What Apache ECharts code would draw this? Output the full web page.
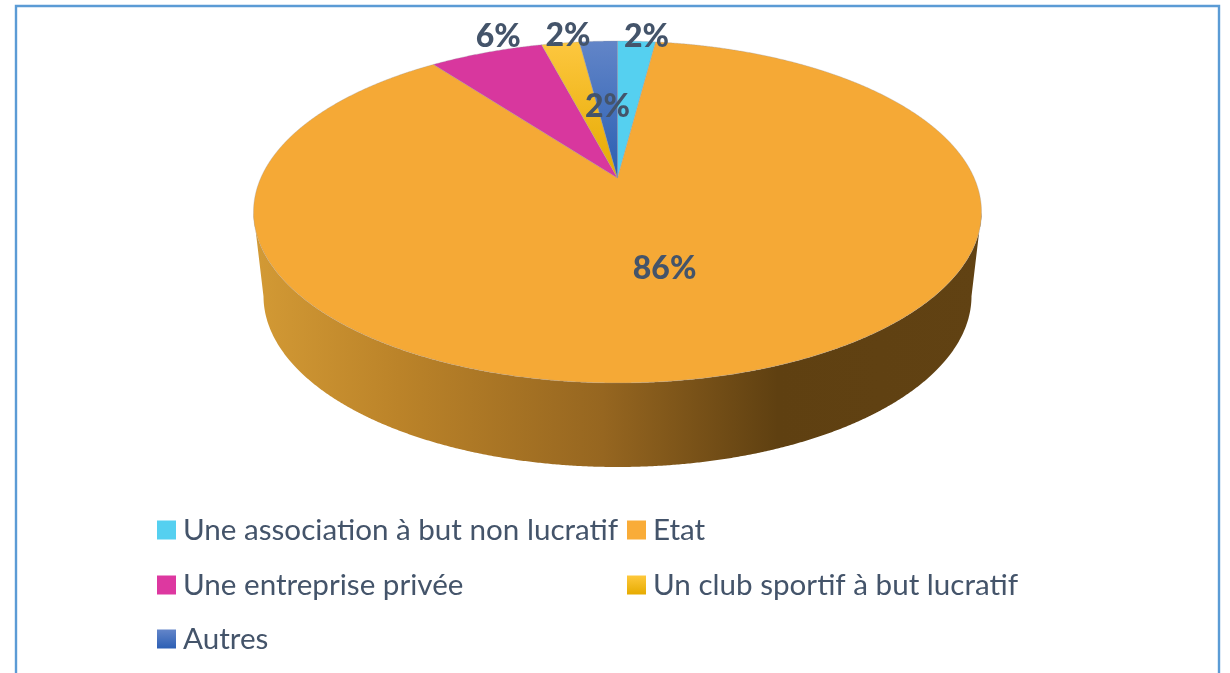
<!DOCTYPE html>
<html>
<head>
<meta charset="utf-8">
<style>html,body{margin:0;padding:0;background:#fff}#c{width:1230px;height:673px}</style>
<script src="https://cdn.jsdelivr.net/npm/echarts@6/dist/echarts.min.js"></script>
</head>
<body>
<div id="c"></div>
<script>
// Data, clockwise from 12 o'clock
const categories = ['Une association à but non lucratif', 'Etat', 'Une entreprise privée', 'Un club sportif à but lucratif', 'Autres'];
const values = [2, 86, 6, 2, 2];
const valueLabels = ['2%', '86%', '6%', '2%', '2%'];

// Styles
const G = echarts.graphic.LinearGradient;
const v = (a, b) => new G(0, 0, 0, 1, [{offset: 0, color: a}, {offset: 1, color: b}]);
const sliceColors = ['#55d0f0', '#f5a936', '#d8379e', v('#fdc73f', '#e5a900'), v('#6285c8', '#2a5fb2')];
const legendColors = ['#55d0f0', '#f9ac38', '#dd38a0', v('#fec83c', '#e6ab00'), v('#6385c9', '#2c5fb4')];
const wallGradient = [
  {offset: 0, color: '#d39a35'}, {offset: 0.2, color: '#bb8329'}, {offset: 0.48, color: '#966620'},
  {offset: 0.72, color: '#5f4011'}, {offset: 1, color: '#614213'}
];
const textColor = '#44546a';

// Projection of the tilted disc
const topEllipse = {cx: 617.5, cy: 212, rx: 364, ry: 171};
const baseEllipse = {cx: 617.5, cy: 296, rx: 354, ry: 171};
const persp = -0.199; // moves the disc's centre towards the back, as perspective does
function project(r, deg) {
  const t = deg * Math.PI / 180;
  const u = r * Math.sin(t), w = -r * Math.cos(t);
  const d = 1 + persp * w;
  return {u: u * Math.sqrt(1 - persp * persp) / d, w: (w + persp) / d};
}
const px = (e, p) => [e.cx + e.rx * p.u, e.cy + e.ry * p.w];

// Label placement: radial fraction along the slice's middle, then a nudge
const labelPlacement = [
  {r: 1, dx: 10, dy: -5}, {r: 0.5, dx: -3, dy: 3}, {r: 1, dx: 12, dy: -16},
  {r: 1, dx: 7.5, dy: -7}, {r: 0.48, dx: 0, dy: 1}
];
// Legend grid
const legendPlacement = [[157, 515], [627, 515], [157, 570], [627, 570], [157, 624]];

const total = values.reduce((a, b) => a + b, 0);
const starts = [];
values.reduce((acc, x, i) => { starts[i] = acc; return acc + x; }, 0);

function renderSlice(i) {
  return function (params, api) {
    const a0 = starts[i] / total * 360;
    const a1 = a0 + api.value(0) / total * 360;
    const step = 0.25;
    const angles = [];
    for (let a = a0; a < a1; a += step) angles.push(a);
    angles.push(a1);

    const children = [];
    // side wall: only the part of the rim facing the viewer
    const front = angles.map(a => project(1, a)).filter(p => p.w >= 0);
    if (front.length > 1) {
      const wall = front.map(p => px(topEllipse, p)).concat(front.slice().reverse().map(p => px(baseEllipse, p)));
      children.push({
        type: 'polygon', shape: {points: wall},
        style: {fill: new G(0, 0, 1, 0, wallGradient), stroke: null}
      });
    }
    // top face
    const face = [px(topEllipse, project(0, 0))].concat(angles.map(a => px(topEllipse, project(1, a))));
    children.push({
      type: 'polygon', shape: {points: face}, z2: 5,
      style: {fill: sliceColors[i], stroke: 'rgba(150,150,160,0.45)', lineWidth: 0.7}
    });
    // value label
    const lp = labelPlacement[i];
    const c = px(topEllipse, project(lp.r, (a0 + a1) / 2));
    children.push({
      type: 'text', z2: 100,
      style: {
        x: c[0] + lp.dx, y: c[1] + lp.dy, text: valueLabels[i],
        fill: textColor, font: '900 32px Lato', align: 'center', verticalAlign: 'middle'
      }
    });
    return {type: 'group', children};
  };
}

const chart = echarts.init(document.getElementById('c'), null, {renderer: 'canvas'});
chart.setOption({
  animation: false,
  backgroundColor: '#fff',
  graphic: [{
    type: 'polyline', silent: true,
    shape: {points: [[16, 673], [16, 6], [1219, 6], [1219, 673]]},
    style: {stroke: '#5b9bd5', lineWidth: 2.4, fill: null}
  }],
  legend: categories.map((name, i) => ({
    data: [{name, icon: 'rect'}],
    left: legendPlacement[i][0], top: legendPlacement[i][1],
    padding: 0, itemWidth: 19, itemHeight: 19, itemGap: 10, selectedMode: false,
    textStyle: {color: textColor, fontFamily: 'Lato', fontSize: 29.6, padding: [0, 0, 0, 2]}
  })),
  series: categories.map((name, i) => ({
    type: 'custom', name, coordinateSystem: 'none', silent: true,
    itemStyle: {color: legendColors[i]},
    data: [[values[i]]],
    encode: {value: 0},
    renderItem: renderSlice(i)
  }))
});
</script>
</body>
</html>
